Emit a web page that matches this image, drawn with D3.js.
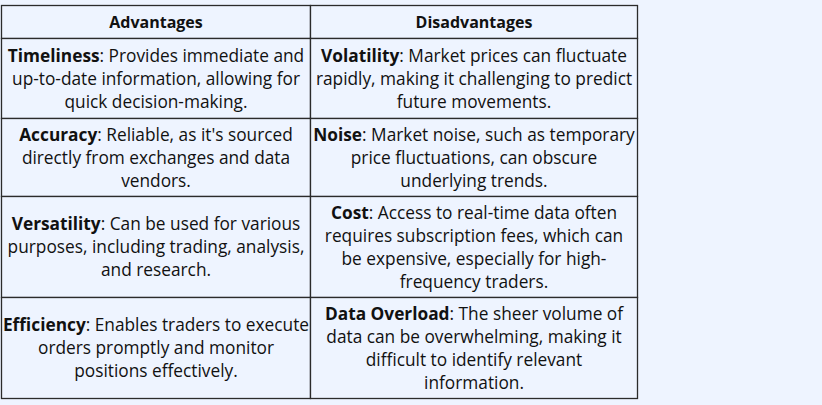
<!DOCTYPE html>
<html><head><meta charset="utf-8">
<script src="https://cdn.jsdelivr.net/npm/d3@7/dist/d3.min.js"></script>
<style>body{margin:0;background:#eef4ff;} svg{display:block;}</style>
</head><body>
<script>
const headers = ["Advantages", "Disadvantages"];
const advantageTerms = ["Timeliness", "Accuracy", "Versatility", "Efficiency"];
const advantageLines = [
  [": Provides immediate and", "up-to-date information, allowing for", "quick decision-making."],
  [": Reliable, as it's sourced", "directly from exchanges and data", "vendors."],
  [": Can be used for various", "purposes, including trading, analysis,", "and research."],
  [": Enables traders to execute", "orders promptly and monitor", "positions effectively."]
];
const disadvantageTerms = ["Volatility", "Noise", "Cost", "Data Overload"];
const disadvantageLines = [
  [": Market prices can fluctuate", "rapidly, making it challenging to predict", "future movements."],
  [": Market noise, such as temporary", "price fluctuations, can obscure", "underlying trends."],
  [": Access to real-time data often", "requires subscription fees, which can", "be expensive, especially for high-", "frequency traders."],
  [": The sheer volume of", "data can be overwhelming, making it", "difficult to identify relevant", "information."]
];

const W = 822, H = 405;
const svg = d3.select("body").append("svg").attr("width", W).attr("height", H);
svg.append("rect").attr("width", W).attr("height", H).attr("fill", "#eef4ff");

const colEdges = [1.5, 310.5, 637.5];
const rowEdges = [5.5, 38.5, 118.5, 196.5, 297.5, 398.5];
const lineH = 23;
const font = "'Open Sans', sans-serif";

for (let r = 0; r < rowEdges.length - 1; r++) {
  for (let c = 0; c < 2; c++) {
    svg.append("rect")
      .attr("x", colEdges[c]).attr("y", rowEdges[r])
      .attr("width", colEdges[c+1] - colEdges[c]).attr("height", rowEdges[r+1] - rowEdges[r])
      .attr("fill", "#eef4ff").attr("stroke", "#2b2b2b").attr("stroke-width", 1.3);
  }
}

headers.forEach((h, c) => {
  svg.append("text")
    .attr("x", (colEdges[c] + colEdges[c+1]) / 2)
    .attr("y", (rowEdges[0] + rowEdges[1]) / 2)
    .attr("dy", "0.35em").attr("text-anchor", "middle")
    .attr("font-family", font).attr("font-size", 16).attr("font-weight", 700)
    .attr("fill", "#111").text(h);
});

function cell(c, r, term, lines) {
  const cx = (colEdges[c] + colEdges[c+1]) / 2;
  const cy = (rowEdges[r+1] + rowEdges[r+2]) / 2;
  const n = lines.length;
  const y0 = cy - (n - 1) * lineH / 2;
  const t = svg.append("text")
    .attr("text-anchor", "middle")
    .attr("font-family", font).attr("font-size", 17.3).attr("fill", "#111");
  lines.forEach((ln, i) => {
    const tl = t.append("tspan").attr("x", cx).attr("y", y0 + i * lineH).attr("dy", "0.35em");
    if (i === 0) {
      tl.append("tspan").attr("font-weight", 700).text(term);
      tl.append("tspan").text(ln);
    } else {
      tl.text(ln);
    }
  });
}

advantageTerms.forEach((term, i) => cell(0, i, term, advantageLines[i]));
disadvantageTerms.forEach((term, i) => cell(1, i, term, disadvantageLines[i]));
</script>
</body></html>
